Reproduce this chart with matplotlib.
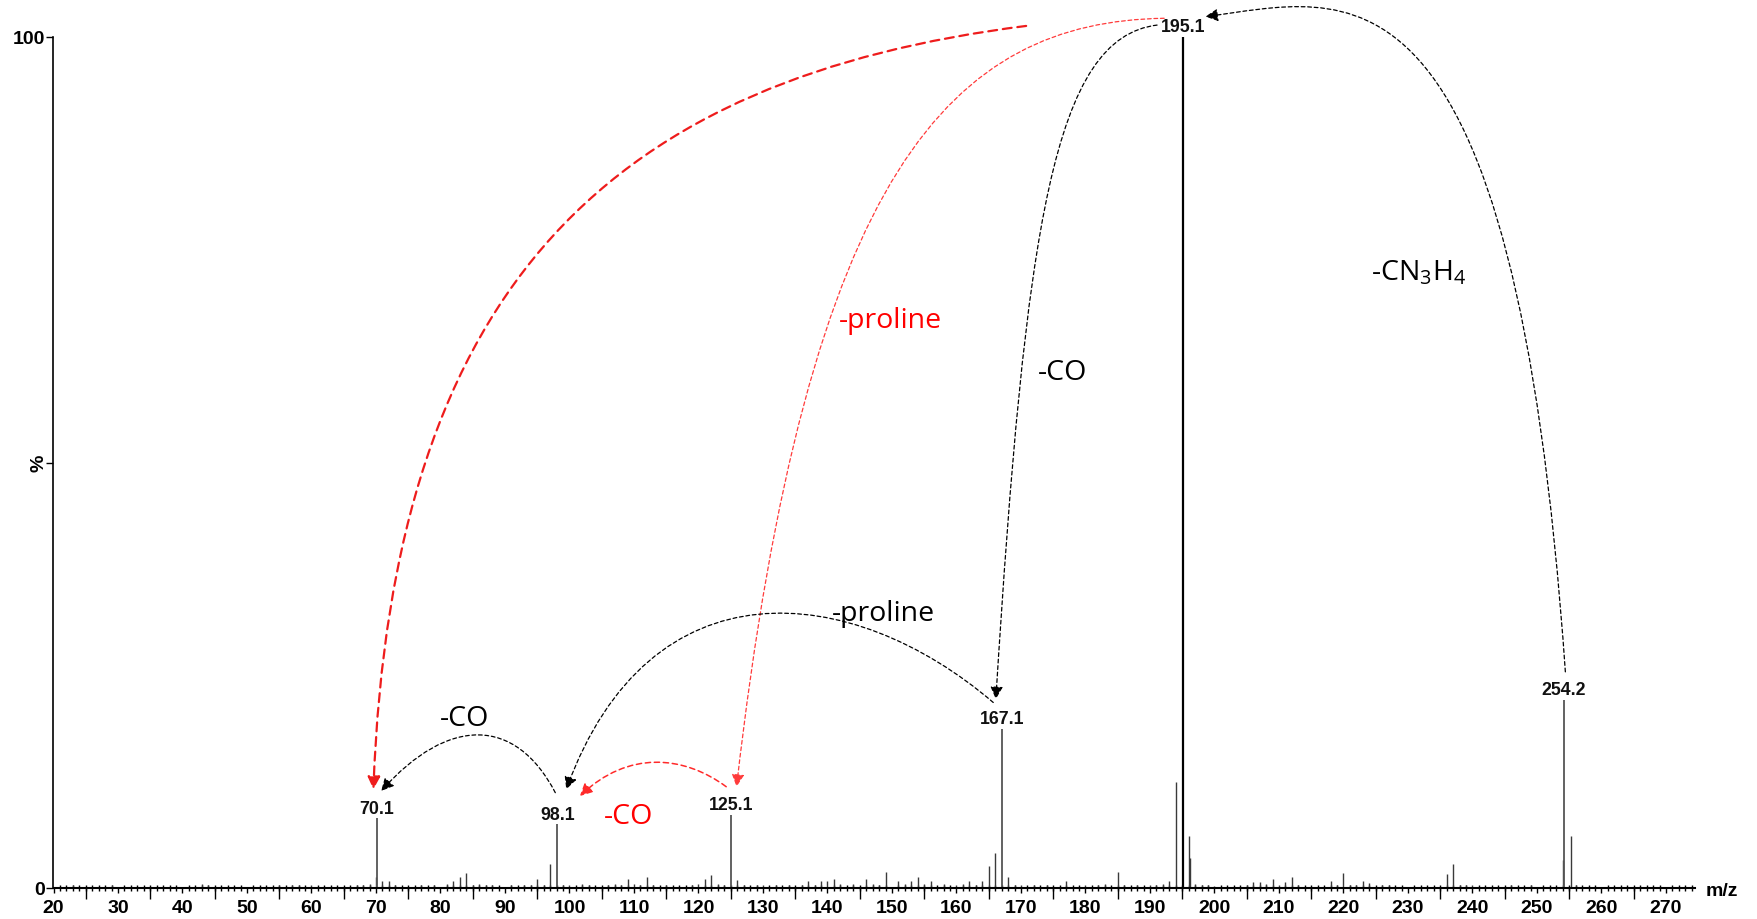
import numpy as np
import matplotlib
matplotlib.use("Agg")
import matplotlib.pyplot as plt
from matplotlib.patches import FancyArrowPatch
from matplotlib.path import Path

# Labelled fragment ions (m/z, relative intensity %)
ion_mz = [70.1, 98.1, 125.1, 167.1, 195.1, 254.2]
ion_int = [8.2, 7.5, 8.6, 18.7, 100.0, 22.1]
ion_labels = ["70.1", "98.1", "125.1", "167.1", "195.1", "254.2"]

# Unlabelled peaks of the spectrum
minor_mz = [23, 29, 43, 44, 55, 57, 58, 60, 67, 68, 69, 70.0, 71, 72, 73, 77, 79,
            81, 82, 83, 84, 85, 86, 87, 88, 91, 93, 94, 95, 96, 97, 99,
            100, 102, 103, 106, 107, 108, 109, 110, 111, 112, 113, 115, 119, 120,
            121, 122, 123, 124, 126,
            127, 129, 130, 132, 134, 136, 137, 138, 139, 140, 141, 142, 144, 146,
            147, 148, 149, 151, 152, 153, 154, 155, 156, 158, 160, 161, 162, 163,
            164, 165, 166, 168, 169, 170, 172, 174, 177, 180, 182, 183, 185, 186,
            188, 190, 191, 192, 193, 194.1,
            196.0, 196.2, 197, 198, 199, 200, 205, 206, 207, 208, 209, 210, 211,
            212, 213, 218, 219, 220, 221, 222, 223, 224, 226, 227, 236, 237, 238,
            239, 240, 246, 249, 254.0, 255.2, 256]
minor_int = [0.3, 0.3, 0.5, 0.4, 0.3, 0.3, 0.3, 0.4, 0.4, 0.4, 0.5, 1.25, 0.8, 0.8, 0.3, 0.3, 0.3,
             0.5, 0.8, 1.3, 1.8, 0.3, 0.5, 0.4, 0.3, 0.3, 0.4, 0.4, 1.0, 0.4, 2.8, 0.4,
             0.4, 0.5, 0.3, 0.4, 0.5, 0.4, 1.0, 0.5, 0.4, 1.25, 0.4, 0.4, 0.4, 0.5,
             1.0, 1.5, 0.5, 0.4, 0.9,
             0.3, 0.3, 0.4, 0.4, 0.4, 0.3, 0.8, 0.4, 0.8, 0.8, 1.0, 0.5, 0.5, 1.0,
             0.5, 0.4, 1.9, 0.8, 0.5, 0.8, 1.25, 0.5, 0.8, 0.5, 0.4, 0.5, 0.8, 0.4,
             0.8, 2.6, 4.1, 1.25, 0.4, 0.4, 0.4, 0.3, 0.8, 0.3, 0.4, 0.5, 1.9, 0.3,
             0.3, 0.3, 0.4, 0.5, 0.8, 12.4,
             6.1, 3.5, 0.5, 0.4, 0.3, 0.2, 0.3, 0.75, 0.75, 0.5, 1.0, 0.3, 0.75,
             1.25, 0.3, 0.8, 0.3, 1.8, 0.3, 0.4, 0.8, 0.6, 0.4, 0.3, 1.6, 2.8, 0.3,
             0.3, 0.3, 0.3, 0.3, 3.3, 6.1, 0.3]

x_ticks = list(range(20, 271, 10))
x_min, x_max = 20, 274.5

FS_NUM = "Liberation Sans"
FS_ANN = "Open Sans"
plt.rcParams["mathtext.fontset"] = "custom"
plt.rcParams["mathtext.rm"] = FS_ANN
plt.rcParams["mathtext.it"] = FS_ANN

fig = plt.figure(figsize=(17.58, 9.20), dpi=100)
ax = fig.add_axes([53.5 / 1758, 31 / 920, (1695 - 53.5) / 1758, (889 - 38) / 920])
ax.set_xlim(x_min, x_max)
ax.set_ylim(0, 100)

# spectrum sticks
ax.vlines(minor_mz, 0, minor_int, color="#3a3a3a", lw=1.0)
ion_colors = ["#555555"] * len(ion_mz)
ion_lw = [1.3] * len(ion_mz)
ion_colors[ion_mz.index(195.1)] = "black"
ion_lw[ion_mz.index(195.1)] = 1.6
ax.vlines(ion_mz, 0, ion_int, colors=ion_colors, lw=ion_lw)

for mz, inten, lab in zip(ion_mz, ion_int, ion_labels):
    ax.annotate(lab, (mz, inten), xytext=(0, 7.2), textcoords="offset points",
                ha="center", va="center", fontsize=12.8, fontweight="bold",
                family=FS_NUM, color="#111111", annotation_clip=False)

# axes styling
for s in ("top", "right"):
    ax.spines[s].set_visible(False)
ax.spines["left"].set_linewidth(1.2)
ax.spines["bottom"].set_linewidth(1.5)
ax.set_xticks(x_ticks)
ax.set_xticklabels([str(t) for t in x_ticks])
ax.set_xticks(np.arange(20, 275, 1), minor=True)
ax.tick_params(axis="x", which="major", direction="out", length=3.6, width=1.0,
               pad=4.5, labelsize=14)
ax.tick_params(axis="x", which="minor", direction="inout", length=5, width=1.0)
ax.set_yticks([0, 50, 100])
ax.set_yticklabels(["0", "", "100"])
ax.tick_params(axis="y", direction="out", length=5, width=1.0, pad=1, labelsize=14)
for lab in ax.get_xticklabels() + ax.get_yticklabels():
    lab.set_family(FS_NUM)
    lab.set_fontweight("bold")

# y-axis unit, rotated next to the mid tick
ax.annotate("%", (0, 50), xycoords=("axes fraction", "data"), xytext=(-10.4, 0),
            textcoords="offset points", rotation=90, ha="center", va="center",
            fontsize=14, fontweight="bold", family=FS_NUM, annotation_clip=False)

sec = ax.secondary_xaxis("bottom")
sec.set_xticks(np.arange(25, 275, 10))
sec.tick_params(direction="out", length=8, width=1.0, labelbottom=False)
sec.spines["bottom"].set_visible(False)

ax.annotate("m/z", (x_max, 0), xytext=(8, -1.5), textcoords="offset points",
            ha="left", va="center", fontsize=14, fontweight="bold", family=FS_NUM,
            annotation_clip=False)


def curved_arrow(pts, color, lw, dash, head=12.5):
    path = Path(pts, [Path.MOVETO, Path.CURVE4, Path.CURVE4, Path.CURVE4])
    arr = FancyArrowPatch(path=path, arrowstyle="-|>,head_length=0.6,head_width=0.3",
                          mutation_scale=head, color=color, lw=lw,
                          linestyle=(0, dash), clip_on=False)
    ax.add_patch(arr)


BLACK_DASH = (3.0, 2.2)
# 254.2 -> 195.1
curved_arrow([(254.4, 25.4), (246.4, 112.4), (220.3, 104.5), (198.6, 102.4)],
             "black", 0.9, BLACK_DASH)
# 195.1 -> 167.1
curved_arrow([(191.1, 101.4), (175.1, 99.9), (170.7, 78.1), (166.1, 22.2)],
             "black", 0.9, BLACK_DASH)
# 195.1 -> 125.1
curved_arrow([(192.2, 102.2), (159.5, 101.8), (136.9, 84.7), (125.9, 11.9)],
             "#ff3b3b", 0.9, (3.0, 2.2))
# 195.1 -> 70.1
curved_arrow([(170.8, 101.3), (107.3, 95.2), (72.5, 71.5), (69.6, 11.6)],
             "#ee1c1c", 1.6, (4.0, 2.6))
# 167.1 -> 98.1
curved_arrow([(165.7, 21.8), (143.8, 36.0), (112.5, 38.6), (99.5, 11.6)],
             "black", 0.9, BLACK_DASH)
# 98.1 -> 70.1
curved_arrow([(97.8, 11.2), (91.6, 20.2), (81.2, 20.2), (70.8, 11.4)],
             "black", 0.9, BLACK_DASH)
# 125.1 -> 98.1
curved_arrow([(124.3, 11.9), (117.7, 15.6), (109.1, 16.2), (101.6, 10.8)],
             "#ff2a2a", 1.1, (3.5, 2.4))

# neutral-loss annotations
ann = dict(fontsize=20.5, family=FS_ANN, ha="center", va="center")
ax.text(231.6, 72.3, r"-CN$_\mathrm{3}$H$_\mathrm{4}$", color="black", **ann)
ax.text(149.8, 66.8, "-proline", color="#ff0000", **ann)
ax.text(176.5, 60.6, "-CO", color="black", **ann)
ax.text(148.6, 32.3, "-proline", color="black", **ann)
ax.text(83.8, 20.0, "-CO", color="black", **ann)
ax.text(109.1, 8.5, "-CO", color="#ff0000", **ann)

fig.savefig("out.png", dpi=100)
